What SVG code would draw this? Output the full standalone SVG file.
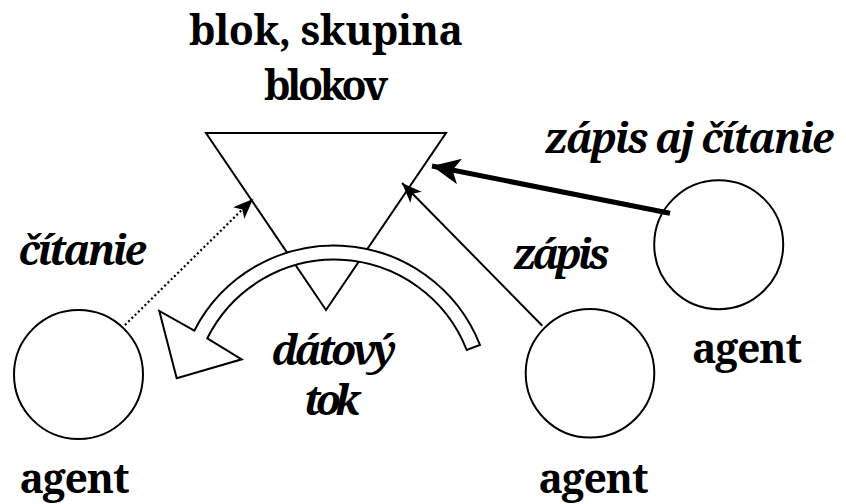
<svg xmlns="http://www.w3.org/2000/svg" width="846" height="504" viewBox="0 0 846 504">
<style>
text{font-family:"Noto Serif","DejaVu Serif",serif;font-weight:700;font-size:41px;fill:#000}
.it{font-style:italic}
.shape{fill:#fff;stroke:#000;stroke-width:2}
.conn{fill:none;stroke:#000}
</style>
<defs>
<marker id="ah" markerUnits="userSpaceOnUse" viewBox="0 0 20 16" refX="20" refY="8" markerWidth="20" markerHeight="16" orient="auto">
<path d="M20,8 L0,0 L5,8 L0,16 Z" fill="#000"/>
</marker>
<marker id="ahb" markerUnits="userSpaceOnUse" viewBox="0 0 28 26" refX="28" refY="13" markerWidth="28" markerHeight="26" orient="auto">
<path d="M28,13 L0,0 L7,13 L0,26 Z" fill="#000"/>
</marker>
</defs>
<rect width="846" height="504" fill="#fff"/>
<g id="block">
<polygon class="shape" points="206,133 446,133 326,310"/>
<text x="326" y="45" text-anchor="middle" textLength="274" lengthAdjust="spacing">blok, skupina</text>
<text x="326" y="100" text-anchor="middle" textLength="124" lengthAdjust="spacing">blokov</text>
</g>
<g id="dataflow">
<path class="shape" d="M480,345 A157,157 0 0 0 194.3,330.7 L159.3,311 L176.7,378.3 L241.7,359.3 L207.3,338.3 A142,142 0 0 1 466.7,350 Z"/>
<text class="it" x="334" y="365" text-anchor="middle" textLength="125" lengthAdjust="spacing">dátový</text>
<text class="it" x="332" y="415" text-anchor="middle" textLength="56" lengthAdjust="spacing">tok</text>
</g>
<g id="agent-left">
<circle class="shape" cx="78.5" cy="374.5" r="64.5"/>
<text x="74.5" y="493" text-anchor="middle" textLength="110" lengthAdjust="spacing">agent</text>
</g>
<g id="agent-middle">
<circle class="shape" cx="590" cy="373.3" r="64.3"/>
<text x="593.5" y="493" text-anchor="middle" textLength="110" lengthAdjust="spacing">agent</text>
</g>
<g id="agent-right">
<circle class="shape" cx="718.7" cy="244.7" r="64.5"/>
<text x="747" y="363" text-anchor="middle" textLength="110" lengthAdjust="spacing">agent</text>
</g>
<g id="connectors">
<line class="conn" x1="125" y1="325" x2="253" y2="199" stroke-width="2.2" stroke-dasharray="2 2.6" marker-end="url(#ah)"/>
<line class="conn" x1="542.3" y1="325.7" x2="402" y2="183" stroke-width="2" marker-end="url(#ah)"/>
<line class="conn" x1="670" y1="213.3" x2="432" y2="166" stroke-width="5" marker-end="url(#ahb)"/>
<text class="it" x="82.5" y="265" text-anchor="middle" textLength="128" lengthAdjust="spacing">čítanie</text>
<text class="it" x="561.5" y="269" text-anchor="middle" textLength="96" lengthAdjust="spacing">zápis</text>
<text class="it" x="545" y="153" textLength="289" lengthAdjust="spacing">zápis aj čítanie</text>
</g>
</svg>
